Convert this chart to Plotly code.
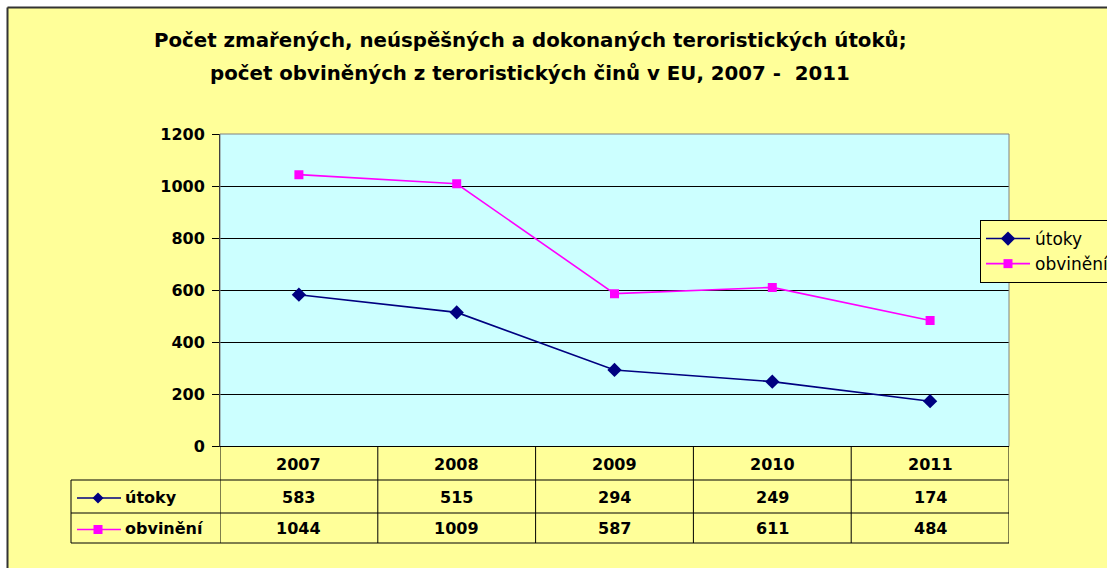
import plotly.graph_objects as go

# ---- data ----
years = ["2007", "2008", "2009", "2010", "2011"]
utoky = [583, 515, 294, 249, 174]
obvineni = [1044, 1009, 587, 611, 484]
series_names = ["útoky", "obvinění"]
y_ticks = [0, 200, 400, 600, 800, 1000, 1200]
title_lines = [
    "Počet zmařených, neúspěšných a dokonaných teroristických útoků;",
    "počet obviněných z teroristických činů v EU, 2007 -\u00a0 2011",
]

W, H = 1107, 568
FONT = "DejaVu Sans, Verdana, sans-serif"
YELLOW = "#FFFF99"
NAVY = "#000080"
MAGENTA = "#FF00FF"


def px(x):
    return x / W


def py(y):
    return 1 - y / H


plot_left, plot_right = 220, 1009
plot_top, plot_bottom = 134, 446.5
hdr_bot, row1_bot, row2_bot = 480, 513, 543
label_left = 71

fig = go.Figure()
fig.add_trace(go.Scatter(
    x=years, y=utoky, name=series_names[0], mode="lines+markers",
    line=dict(color=NAVY, width=1.6),
    marker=dict(symbol="diamond", size=11, color=NAVY),
))
fig.add_trace(go.Scatter(
    x=years, y=obvineni, name=series_names[1], mode="lines+markers",
    line=dict(color=MAGENTA, width=1.6),
    marker=dict(symbol="square", size=9, color=MAGENTA),
))

shapes = []
# white strips outside the chart area (top / left) and its dark border
shapes.append(dict(type="rect", xref="paper", yref="paper",
                   x0=0, x1=1, y0=py(7), y1=1,
                   fillcolor="#FFFFFF", line=dict(width=0), layer="below"))
shapes.append(dict(type="rect", xref="paper", yref="paper",
                   x0=0, x1=px(7), y0=0, y1=1,
                   fillcolor="#FFFFFF", line=dict(width=0), layer="below"))
shapes.append(dict(type="line", xref="paper", yref="paper",
                   x0=px(7.5), x1=1, y0=py(7.5), y1=py(7.5),
                   line=dict(color="#333333", width=2)))
shapes.append(dict(type="line", xref="paper", yref="paper",
                   x0=px(7.5), x1=px(7.5), y0=0, y1=py(7.5),
                   line=dict(color="#333333", width=2)))
# plot area border (gray)
shapes.append(dict(type="rect", xref="paper", yref="paper",
                   x0=px(plot_left), x1=px(plot_right),
                   y0=py(plot_bottom), y1=py(plot_top),
                   line=dict(color="#808080", width=1)))

tl = dict(color="#000000", width=1)
# table horizontal lines
for yy in (hdr_bot, row1_bot, row2_bot):
    shapes.append(dict(type="line", xref="paper", yref="paper",
                       x0=px(label_left), x1=px(plot_right),
                       y0=py(yy), y1=py(yy), line=tl))
shapes.append(dict(type="line", xref="paper", yref="paper",
                   x0=px(plot_left), x1=px(plot_right),
                   y0=py(plot_bottom), y1=py(plot_bottom), line=tl))
# table vertical lines (column boundaries on the category axis)
for i in range(len(years) + 1):
    shapes.append(dict(type="line", xref="x", yref="paper",
                       x0=i - 0.5, x1=i - 0.5,
                       y0=py(plot_bottom), y1=py(row2_bot), line=tl))
shapes.append(dict(type="line", xref="paper", yref="paper",
                   x0=px(label_left), x1=px(label_left),
                   y0=py(hdr_bot), y1=py(row2_bot), line=tl))

# legend keys inside the table
row_mid = [(hdr_bot + row1_bot) / 2 + 1.5, (row1_bot + row2_bot) / 2 + 1.5]
key_colors = [NAVY, MAGENTA]
for r, (ym, c) in enumerate(zip(row_mid, key_colors)):
    shapes.append(dict(type="line", xref="paper", yref="paper",
                       x0=px(77), x1=px(121), y0=py(ym), y1=py(ym),
                       line=dict(color=c, width=1.5)))
    cx = 98
    if r == 0:
        d = 5.5
        path = (f"M {px(cx - d)} {py(ym)} L {px(cx)} {py(ym - d)} "
                f"L {px(cx + d)} {py(ym)} L {px(cx)} {py(ym + d)} Z")
        shapes.append(dict(type="path", xref="paper", yref="paper", path=path,
                           fillcolor=c, line=dict(color=c, width=0)))
    else:
        d = 4.5
        shapes.append(dict(type="rect", xref="paper", yref="paper",
                           x0=px(cx - d), x1=px(cx + d),
                           y0=py(ym + d), y1=py(ym - d),
                           fillcolor=c, line=dict(color=c, width=0)))

annotations = []
# title
for line, yy in zip(title_lines, (41, 73)):
    annotations.append(dict(text=f"<b>{line}</b>", xref="paper", yref="paper",
                            x=px(530), y=py(yy), xanchor="center", yanchor="middle",
                            showarrow=False,
                            font=dict(family=FONT, size=19.8, color="#000000")))
# table header
tfont = dict(family=FONT, size=16, color="#000000")
hdr_mid = (plot_bottom + hdr_bot) / 2 + 1
for i, yr in enumerate(years):
    annotations.append(dict(text=f"<b>{yr}</b>", xref="x", yref="paper",
                            x=i, y=py(hdr_mid), xanchor="center", yanchor="middle",
                            showarrow=False, font=tfont))
for name, vals, ym in zip(series_names, (utoky, obvineni), row_mid):
    annotations.append(dict(text=f"<b>{name}</b>", xref="paper", yref="paper",
                            x=px(123), y=py(ym - 1), xanchor="left", yanchor="middle",
                            showarrow=False, font=tfont))
    for i, v in enumerate(vals):
        annotations.append(dict(text=f"<b>{v}</b>", xref="x", yref="paper",
                                x=i, y=py(ym - 1), xanchor="center", yanchor="middle",
                                showarrow=False, font=tfont))

fig.update_layout(
    width=W, height=H,
    margin=dict(l=0, r=0, t=0, b=0, autoexpand=False),
    paper_bgcolor=YELLOW,
    plot_bgcolor="#CCFFFF",
    showlegend=True,
    legend=dict(x=px(980), y=py(220), xanchor="left", yanchor="top",
                bgcolor=YELLOW, bordercolor="#000000", borderwidth=1,
                font=dict(family=FONT, size=17, color="#000000"),
                tracegroupgap=0, itemwidth=44),
    xaxis=dict(domain=[px(plot_left), px(plot_right)], type="category",
               range=[-0.5, len(years) - 0.5], showticklabels=False,
               showgrid=False, zeroline=False, showline=False, ticks=""),
    yaxis=dict(domain=[py(plot_bottom), py(plot_top)], range=[0, 1200],
               tickvals=y_ticks, ticktext=[f"<b>{t}</b>" for t in y_ticks],
               ticks="outside", ticklen=7, tickcolor="#000000",
               ticklabelstandoff=4,
               showgrid=True, gridcolor="#000000", gridwidth=1,
               zeroline=False, showline=True, linecolor="#000000", linewidth=1,
               tickfont=dict(family=FONT, size=16, color="#000000")),
    shapes=shapes,
    annotations=annotations,
)

fig.write_html("out.html", config={"displayModeBar": False},
               post_script="document.body.style.margin='0';")
